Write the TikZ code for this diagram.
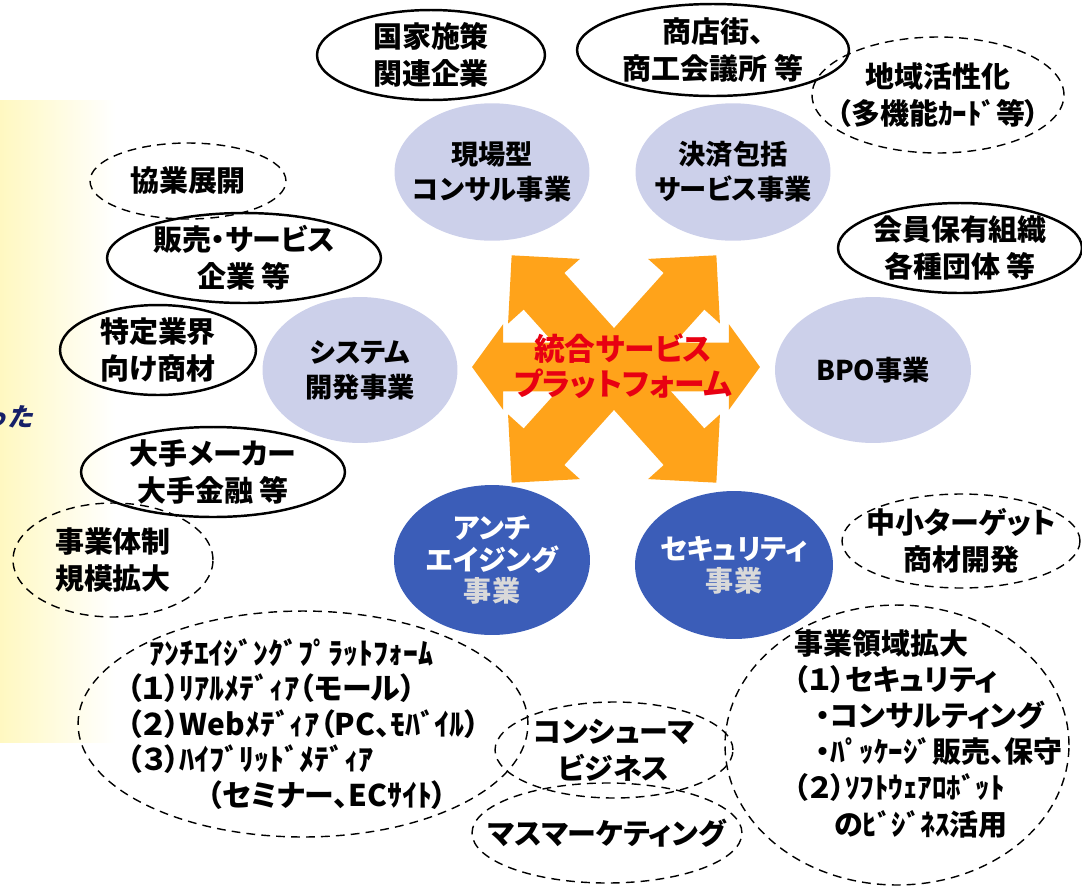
\documentclass[tikz,border=0pt]{standalone}
\usepackage{fontspec}
\setmainfont{Noto Sans CJK JP}[RawFeature=+palt]
\newfontfamily\slantfont{Noto Sans CJK JP}[FakeSlant=0.25]
\usetikzlibrary{shapes.geometric, shapes.arrows, positioning}
\definecolor{lav}{RGB}{204,208,234}
\definecolor{bizblue}{RGB}{59,93,184}
\definecolor{hubcol}{RGB}{255,163,26}
\definecolor{hubred}{RGB}{232,0,18}
\definecolor{navy}{RGB}{22,32,104}
\definecolor{panel}{RGB}{255,248,190}
\tikzset{
    biz/.style={ellipse, fill=lav, inner sep=0pt}, % existing businesses
    core/.style={ellipse, fill=bizblue, inner sep=0pt}, % new businesses
    partner/.style={ellipse, draw, line width=1.4pt, inner sep=0pt}, % partners
    plan/.style={ellipse, draw, dash pattern=on 5pt off 3.5pt, line width=0.8pt, inner sep=0pt}, % plans
    hub/.style={double arrow, fill=hubcol, inner xsep=0pt}, % platform arrows
    txt/.style={align=center, font=\bfseries\fontsize{16.5}{21}\selectfont},
    biztxt/.style={align=center, font=\bfseries\fontsize{15.5}{20}\selectfont},
    coretxt/.style={align=center, text=white, font=\bfseries\fontsize{16}{18}\selectfont},
    listtxt/.style={align=left, anchor=west, font=\bfseries\fontsize{16.5}{20.5}\selectfont},
}
\begin{document}
\begin{tikzpicture}[x=0.02cm, y=-0.02cm]
    \useasboundingbox (0,0) rectangle (1082,890);
    % panel cut off at the left
    \shade[left color=panel, right color=white] (-5,100) rectangle (115,742);
    \node[anchor=east, text=navy, font=\slantfont\bfseries\fontsize{14.5}{16}\selectfont] (ta) at (39,417) {った};

    % platform arrows
    \node[hub, minimum height=5.76cm, inner ysep=0.48cm, double arrow head extend=0.37cm, double arrow tip angle=108] (hubh) at (616,367) {};
    \node[hub, rotate=48, minimum height=6.12cm, inner ysep=0.54cm, double arrow head extend=0.42cm, double arrow tip angle=90] (hubd1) at (614,369) {};
    \node[hub, rotate=-48, minimum height=6.12cm, inner ysep=0.54cm, double arrow head extend=0.42cm, double arrow tip angle=90] (hubd2) at (614,369) {};
    \node[align=center, text=hubred, font=\bfseries\fontsize{17.5}{20}\selectfont] (hubt) at (623,366) {統合サービス\\プラットフォーム};

    % existing businesses
    \node[biz, minimum width=3.9cm, minimum height=2.75cm, label={[biztxt]center:現場型\\コンサル事業}] (genba) at (492,172) {};
    \node[biz, minimum width=3.9cm, minimum height=2.75cm, label={[biztxt]center:決済包括\\サービス事業}] (kessai) at (733,172) {};
    \node[biz, minimum width=3.9cm, minimum height=2.92cm, label={[biztxt]center:システム\\開発事業}] (system) at (360,370) {};
    \node[biz, minimum width=3.92cm, minimum height=2.92cm, label={[biztxt]center:BPO事業}] (bpo) at (873,370) {};

    % new businesses
    \node[core, minimum width=3.92cm, minimum height=3cm, label={[coretxt]center:アンチ\\エイジング\\{\color{white!85!black}事業}}] (aging) at (492,560) {};
    \node[core, minimum width=3.96cm, minimum height=2.96cm, label={[coretxt]center:セキュリティ\\{\color{white!85!black}事業}}] (security) at (734,565) {};

    % partners
    \node[partner, minimum width=4.56cm, minimum height=1.8cm, label={[txt]center:国家施策\\関連企業}] (kokka) at (431,55) {};
    \node[partner, minimum width=5.44cm, minimum height=1.84cm, label={[txt]center:商店街、\\商工会議所 等}] (shoten) at (713,50) {};
    \node[partner, minimum width=4.88cm, minimum height=1.8cm, label={[txt]center:会員保有組織\\各種団体 等}] (kaiin) at (960,248) {};
    \node[partner, minimum width=5.48cm, minimum height=1.8cm, label={[txt]center:販売・サービス\\企業 等}] (hanbai) at (244,258) {};
    \node[partner, minimum width=3.92cm, minimum height=1.8cm, label={[txt]center:特定業界\\向け商材}] (tokutei) at (158,350) {};
    \node[partner, minimum width=5.28cm, minimum height=1.8cm, label={[txt]center:大手メーカー\\大手金融 等}] (ote) at (213,472) {};

    % plans
    \node[plan, minimum width=5.04cm, minimum height=2.32cm, label={[txt]center:地域活性化\\（多機能ｶｰﾄﾞ等）}] (chiiki) at (938,95) {};
    \node[plan, minimum width=3.92cm, minimum height=1.52cm, label={[txt]center:協業展開}] (kyogyo) at (188,181) {};
    \node[plan, minimum width=4cm, minimum height=2.28cm, label={[txt]center:事業体制\\規模拡大}] (taisei) at (113,560) {};
    \node[plan, minimum width=4.76cm, minimum height=1.88cm, label={[txt]center:中小ターゲット\\商材開発}] (chusho) at (961,541) {};
    \node[plan, minimum width=4.76cm, minimum height=1.92cm, label={[txt]center:コンシューマ\\ビジネス}] (consumer) at (614,750) {};
    \node[plan, minimum width=5.4cm, minimum height=2cm, label={[txt]center:マスマーケティング}] (mass) at (607,833) {};
    \node[plan, minimum width=9cm, minimum height=4.52cm] (agingplan) at (303,724) {};
    \node[plan, minimum width=6.88cm, minimum height=5.6cm] (ryoiki) at (897,745) {};
    \node[listtxt, font=\bfseries\fontsize{17}{20.2}\selectfont] (agingplan-t) at (121,724) {\hspace*{0.44cm}ｱﾝﾁｴｲｼﾞﾝｸﾞﾌﾟﾗｯﾄﾌｫｰﾑ\\（１）ﾘｱﾙﾒﾃﾞｨｱ（モール）\\（２）Webﾒﾃﾞｨｱ（PC、ﾓﾊﾞｲﾙ）\\（３）ﾊｲﾌﾞﾘｯﾄﾞﾒﾃﾞｨｱ\\\hspace*{1.6cm}（セミナー、ECｻｲﾄ）};
    \node[listtxt] (ryoiki-t) at (788,734) {事業領域拡大\\（１）セキュリティ\\\hspace*{0.44cm}・コンサルティング\\\hspace*{0.44cm}・ﾊﾟｯｹｰｼﾞ販売、保守\\（２）ｿﾌﾄｳｪｱﾛﾎﾞｯﾄ\\\hspace*{0.8cm}のﾋﾞｼﾞﾈｽ活用};
\end{tikzpicture}
\end{document}
